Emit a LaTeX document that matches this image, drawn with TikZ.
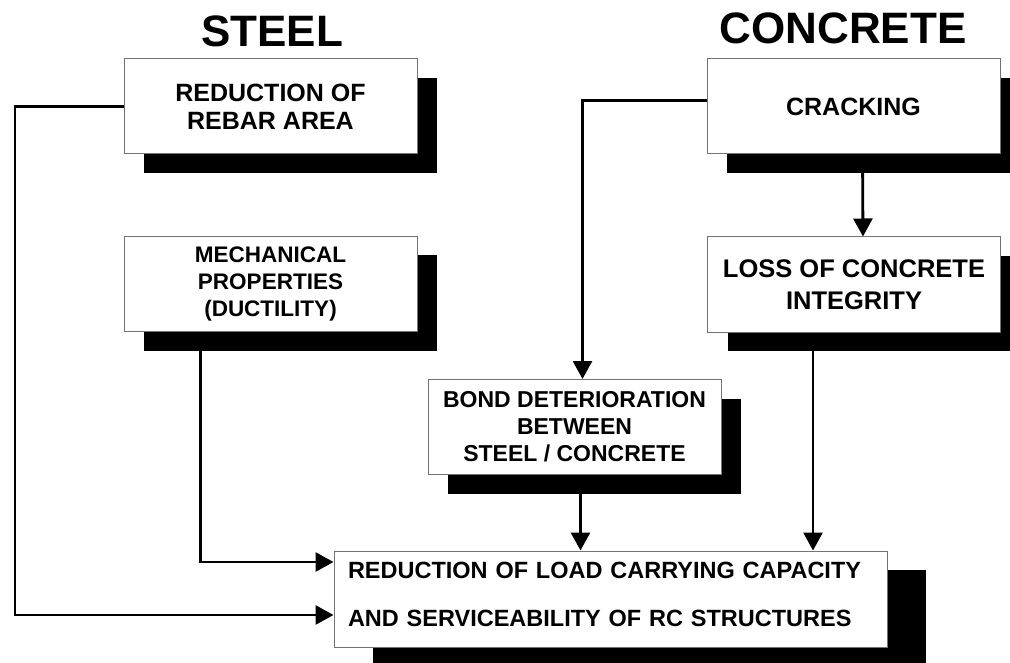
\documentclass[tikz,border=0pt]{standalone}
\usepackage{fontspec}
\setmainfont{Liberation Sans}
\usetikzlibrary{shadows,arrows.meta}

\begin{document}
\begin{tikzpicture}[x=1pt, y=-1pt,
    box/.style={draw=black!55, line width=1pt, fill=white, align=center,
                minimum width=293pt, minimum height=95pt, inner sep=0pt,
                drop shadow={shadow xshift=#1, shadow yshift=-19pt, fill=black, opacity=1}},
    box/.default=20pt,
    flow/.style={line width=2.8pt, -{Triangle[length=18pt,width=19pt]}},
    title/.style={font=\fontsize{44}{50}\selectfont\bfseries}]
  \useasboundingbox (0,0) rectangle (1010,663);
  \clip (0,0) rectangle (1010,663);

  \node [title] (steel) at (272,31) {STEEL};
  \node [title] (concrete) at (843,28) {CONCRETE};

  \node [box, font=\fontsize{25}{28}\selectfont\bfseries] (rebar) at (270.5,106.5)
        {REDUCTION OF\\REBAR AREA};
  \node [box, font=\fontsize{25}{28}\selectfont\bfseries] (crack) at (853.5,106.5)
        {CRACKING};
  \node [box, font=\fontsize{22.5}{27}\selectfont\bfseries] (mech) at (270.5,284)
        {MECHANICAL\\PROPERTIES\\(DUCTILITY)};
  \node [box, font=\fontsize{25.5}{32}\selectfont\bfseries] (loss) at (854,284.5)
        {LOSS OF CONCRETE\\INTEGRITY};
  \node [box, font=\fontsize{23}{27}\selectfont\bfseries] (bond) at (574.5,427)
        {BOND DETERIORATION\\BETWEEN\\STEEL / CONCRETE};
  \node [box=39pt, minimum width=553pt, minimum height=96pt, text width=525pt, align=left,
         text depth=58pt, font=\fontsize{23.5}{48}\selectfont\bfseries] (load) at (610.5,599)
        {REDUCTION OF LOAD CARRYING CAPACITY\\AND SERVICEABILITY OF RC STRUCTURES};

  \coordinate (stl) at (15,0);
  \coordinate (in1) at ([yshift=37pt]load.west);
  \coordinate (in2) at ([yshift=-16pt]load.west);

  \draw [flow] (rebar.west) -- (rebar.west -| stl) |- (in2);
  \draw [flow] ([xshift=-70pt]mech.south) |- (in1);
  \draw [flow] ([yshift=6pt]crack.west) -| ([xshift=8pt]bond.north);
  \draw [flow] ([xshift=9pt]crack.south) -- ([xshift=9pt]loss.north);
  \draw [flow] ([xshift=6pt]bond.south) -- ([xshift=6pt]bond.south |- load.north);
  \draw [flow] ([xshift=-41pt]loss.south) -- ([xshift=-41pt]loss.south |- load.north);
\end{tikzpicture}
\end{document}
